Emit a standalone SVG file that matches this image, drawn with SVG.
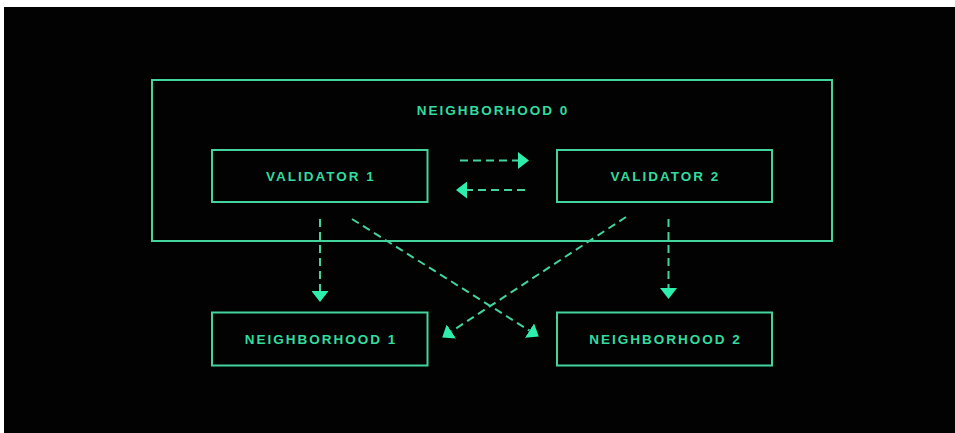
<svg xmlns="http://www.w3.org/2000/svg" width="955" height="433" viewBox="0 0 955 433">
<style>
.box{fill:none;stroke:#43d39c;stroke-width:2}
.lbl{font-family:"Liberation Sans",Arial,sans-serif;font-weight:bold;font-size:13.5px;letter-spacing:2px;fill:#32dc9e;text-anchor:middle}
.dash{fill:none;stroke:#43d39c;stroke-width:2;stroke-dasharray:8 5;marker-end:url(#ah)}
</style>
<defs>
<marker id="ah" markerUnits="userSpaceOnUse" markerWidth="11" markerHeight="17" refX="0" refY="8.5" viewBox="0 0 11 17" orient="auto">
<path d="M0,0 L11,8.5 L0,17 z" fill="#2eeeae"/>
</marker>
</defs>
<rect x="0" y="0" width="955" height="433" fill="#ffffff"/>
<rect x="4" y="7" width="951" height="426" fill="#020202"/>
<g id="neighborhood0">
<rect class="box" x="152" y="80" width="680" height="161"/>
<text class="lbl" x="493" y="115">NEIGHBORHOOD 0</text>
</g>
<g id="validator1">
<rect class="box" x="212" y="150" width="215.5" height="52"/>
<text class="lbl" x="321" y="181">VALIDATOR 1</text>
</g>
<g id="validator2">
<rect class="box" x="557" y="150" width="215" height="52"/>
<text class="lbl" x="665.5" y="181">VALIDATOR 2</text>
</g>
<g id="neighborhood1">
<rect class="box" x="212" y="312.5" width="215.5" height="53"/>
<text class="lbl" x="321" y="343.5">NEIGHBORHOOD 1</text>
</g>
<g id="neighborhood2">
<rect class="box" x="557" y="312.5" width="215" height="53"/>
<text class="lbl" x="665.5" y="343.5">NEIGHBORHOOD 2</text>
</g>
<g id="connectors">
<path class="dash" d="M460,160.5 L518,160.5"/>
<path class="dash" d="M525,190 L467,190"/>
<path class="dash" d="M320,219 L320,291"/>
<path class="dash" d="M668.5,219 L668.5,288"/>
<path class="dash" d="M352,219 L529.5,330.6"/>
<path class="dash" d="M626,217 L451.4,331.5"/>
</g>
</svg>
